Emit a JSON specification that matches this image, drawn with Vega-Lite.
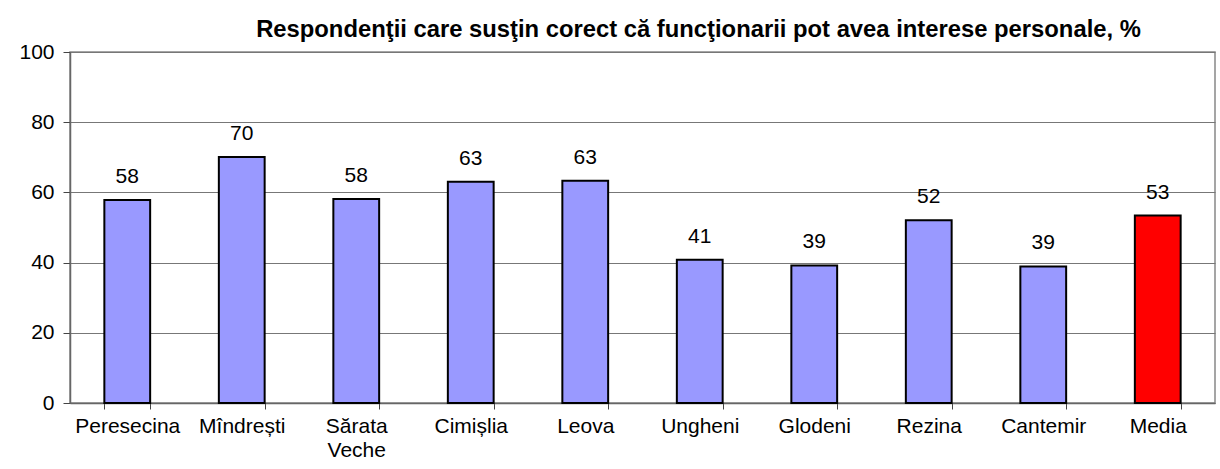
{
  "$schema": "https://vega.github.io/schema/vega-lite/v6.json",
  "width": 1145,
  "height": 351,
  "autosize": {"type": "none"},
  "padding": {"left": 70, "top": 52, "right": 5, "bottom": 66},
  "background": "white",
  "title": {
    "text": "Respondenţii care susţin corect că funcţionarii pot avea interese personale, %",
    "font": "Liberation Sans",
    "fontSize": 23.8,
    "fontWeight": "bold",
    "color": "black",
    "anchor": "middle",
    "dx": 56,
    "offset": -1
  },
  "data": {
    "values": [
      {"loc": "Peresecina", "v": 57.8, "media": false},
      {"loc": "Mîndrești", "v": 70.1, "media": false},
      {"loc": "Sărata Veche", "v": 58.1, "media": false},
      {"loc": "Cimișlia", "v": 63.0, "media": false},
      {"loc": "Leova", "v": 63.3, "media": false},
      {"loc": "Ungheni", "v": 40.8, "media": false},
      {"loc": "Glodeni", "v": 39.2, "media": false},
      {"loc": "Rezina", "v": 52.1, "media": false},
      {"loc": "Cantemir", "v": 38.9, "media": false},
      {"loc": "Media", "v": 53.4, "media": true}
    ]
  },
  "encoding": {
    "x": {
      "field": "loc",
      "type": "nominal",
      "sort": null,
      "scale": {"paddingInner": 0.6, "paddingOuter": 0.3},
      "axis": {
        "title": null,
        "labelAngle": 0,
        "labelFont": "Liberation Sans",
        "labelFontSize": 21,
        "labelColor": "black",
        "labelPadding": 6,
        "labelExpr": "split(datum.label, ' ')",
        "labelLineHeight": 24,
        "tickBand": "extent",
        "tickSize": 6,
        "tickColor": "#444",
        "domainColor": "#666",
        "domainWidth": 1.5
      }
    },
    "y": {
      "field": "v",
      "type": "quantitative",
      "scale": {"domain": [0, 100]},
      "axis": {
        "title": null,
        "values": [0, 20, 40, 60, 80, 100],
        "labelFont": "Liberation Sans",
        "labelFontSize": 21,
        "labelColor": "black",
        "labelPadding": 9,
        "tickSize": 7,
        "tickColor": "#444",
        "domainColor": "#666",
        "domainWidth": 1.5,
        "gridColor": "#777",
        "gridWidth": 1.2
      }
    }
  },
  "layer": [
    {
      "mark": {"type": "bar", "stroke": "black", "strokeWidth": 2},
      "encoding": {
        "color": {
          "field": "media",
          "type": "nominal",
          "scale": {"domain": [false, true], "range": ["#9999FF", "#FF0000"]},
          "legend": null
        }
      }
    },
    {
      "mark": {"type": "text", "baseline": "alphabetic", "dy": -17, "font": "Liberation Sans", "fontSize": 21, "color": "black"},
      "encoding": {
        "text": {"field": "v", "type": "quantitative", "format": ".0f"}
      }
    }
  ],
  "config": {
    "view": {"stroke": "#888", "strokeWidth": 1.5}
  }
}
